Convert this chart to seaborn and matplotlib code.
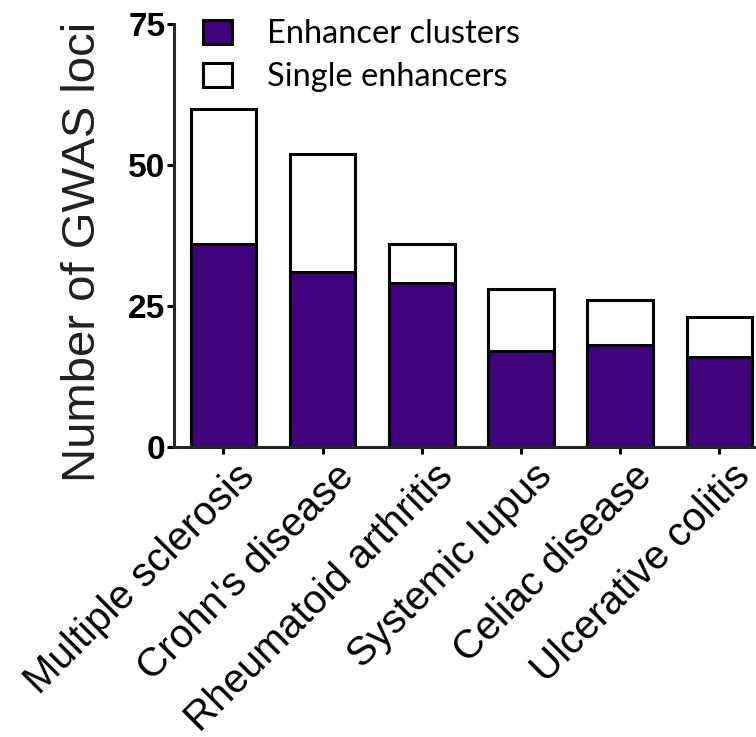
import matplotlib
matplotlib.use('Agg')
import matplotlib.pyplot as plt
import matplotlib.transforms as mtransforms
import numpy as np
import pandas as pd
import seaborn as sns

# values
diseases = ['Multiple sclerosis', "Crohn's disease", 'Rheumatoid arthritis',
            'Systemic lupus', 'Celiac disease', 'Ulcerative colitis']
clusters = [36, 31, 29, 17, 18, 16]
singles = [24, 21, 7, 11, 8, 7]
y_ticks = [0, 25, 50, 75]

purple = '#41027e'

sns.set_style('ticks')
plt.rcParams['font.family'] = ['Liberation Sans', 'DejaVu Sans']
plt.rcParams['text.color'] = 'black'
plt.rcParams['xtick.labelcolor'] = 'black'
plt.rcParams['ytick.labelcolor'] = 'black'

df = pd.DataFrame({'disease': diseases, 'clusters': clusters, 'singles': singles})
df['total'] = df['clusters'] + df['singles']

fig = plt.figure(figsize=(7.56, 7.37), dpi=100)
ax = fig.add_axes([0.230, 0.3935, 0.770, 0.5739])

lw = 2.2
sns.barplot(data=df, x='disease', y='total', color='white', saturation=1,
            edgecolor='black', linewidth=lw, width=0.66, ax=ax,
            label='Single enhancers')
sns.barplot(data=df, x='disease', y='clusters', color=purple, saturation=1,
            edgecolor='black', linewidth=lw, width=0.66, ax=ax,
            label='Enhancer clusters')

ax.set_xlim(-0.5, 5.37)
ax.set_ylim(0, 75)
ax.set_yticks(y_ticks)
ax.set_yticklabels([str(v) for v in y_ticks], fontsize=24, fontweight='bold')
ax.set_xticks(range(len(diseases)))
ax.set_xticklabels(diseases, fontsize=29, rotation=45, ha='right',
                   va='baseline', rotation_mode='anchor')
ax.set_xlabel('')
ax.set_ylabel('Number of GWAS loci', fontsize=34, color='#231f20')
ax.yaxis.set_label_coords(-0.119, 0.461)

for side in ['top', 'right']:
    ax.spines[side].set_visible(False)
for side in ['left', 'bottom']:
    ax.spines[side].set_linewidth(lw)
ax.tick_params(axis='both', width=lw, length=5.2, color='black', pad=1)
ax.tick_params(axis='x', pad=0)

# push the rotated labels so their ends sit right of the ticks, as in the reference
shift = mtransforms.ScaledTranslation(0.33, -0.24, fig.dpi_scale_trans)
for lab in ax.get_xticklabels():
    lab.set_transform(lab.get_transform() + shift)

h, l = ax.get_legend_handles_labels()
order = [l.index('Enhancer clusters'), l.index('Single enhancers')]
leg = ax.legend([h[i] for i in order], [l[i] for i in order],
                loc='upper left', bbox_to_anchor=(0.2685, 0.974),
                bbox_transform=fig.transFigure, frameon=False,
                prop={'family': 'Lato', 'size': 23.5},
                handlelength=0.9, handleheight=0.74, handletextpad=1.05,
                labelspacing=0.4, borderpad=0, borderaxespad=0)

fig.savefig('out.png', dpi=100)
